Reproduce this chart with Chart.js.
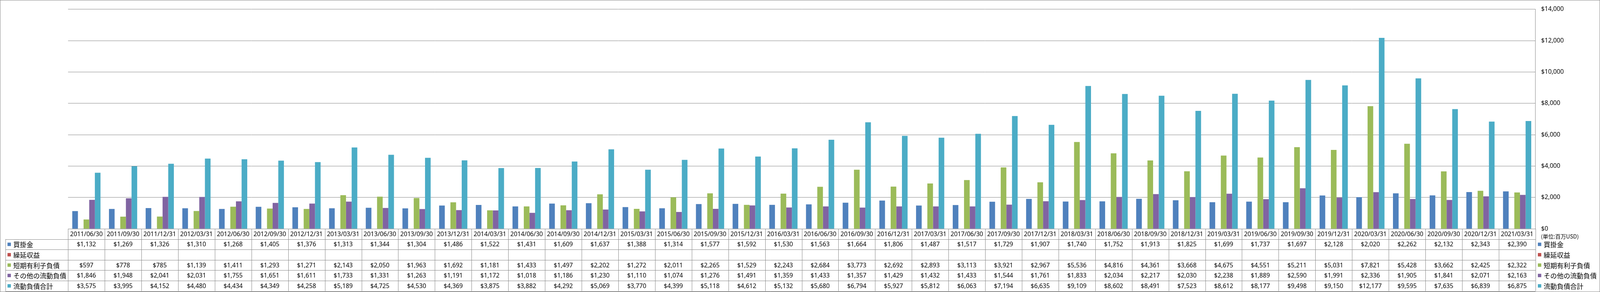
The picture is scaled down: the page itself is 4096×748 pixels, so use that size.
<!DOCTYPE html>
<html><head><meta charset="utf-8">
<script src="https://cdn.jsdelivr.net/npm/chart.js@4.4.0/dist/chart.umd.min.js"></script>
<style>html,body{margin:0;padding:0;background:#fff;}canvas{display:block;}</style>
</head><body>
<canvas id="c" width="4096" height="748"></canvas>
<script>
const categories = ['2011/06/30','2011/09/30','2011/12/31','2012/03/31','2012/06/30','2012/09/30','2012/12/31','2013/03/31','2013/06/30','2013/09/30','2013/12/31','2014/03/31','2014/06/30','2014/09/30','2014/12/31','2015/03/31','2015/06/30','2015/09/30','2015/12/31','2016/03/31','2016/06/30','2016/09/30','2016/12/31','2017/03/31','2017/06/30','2017/09/30','2017/12/31','2018/03/31','2018/06/30','2018/09/30','2018/12/31','2019/03/31','2019/06/30','2019/09/30','2019/12/31','2020/03/31','2020/06/30','2020/09/30','2020/12/31','2021/03/31'];
const seriesNames = ['買掛金','繰延収益','短期有利子負債','その他の流動負債','流動負債合計'];
const accountsPayable = [1132,1269,1326,1310,1268,1405,1376,1313,1344,1304,1486,1522,1431,1609,1637,1388,1314,1577,1592,1530,1563,1664,1806,1487,1517,1729,1907,1740,1752,1913,1825,1699,1737,1697,2128,2020,2262,2132,2343,2390];
const deferredRevenue = [null,null,null,null,null,null,null,null,null,null,null,null,null,null,null,null,null,null,null,null,null,null,null,null,null,null,null,null,null,null,null,null,null,null,null,null,null,null,null,null];
const shortTermDebt = [597,778,785,1139,1411,1293,1271,2143,2050,1963,1692,1181,1433,1497,2202,1272,2011,2265,1529,2243,2684,3773,2692,2893,3113,3921,2967,5536,4816,4361,3668,4675,4551,5211,5031,7821,5428,3662,2425,2322];
const otherCurrentLiabilities = [1846,1948,2041,2031,1755,1651,1611,1733,1331,1263,1191,1172,1018,1186,1230,1110,1074,1276,1491,1359,1433,1357,1429,1432,1433,1544,1761,1833,2034,2217,2030,2238,1889,2590,1991,2336,1905,1841,2071,2163];
const totalCurrentLiabilities = [3575,3995,4152,4480,4434,4349,4258,5189,4725,4530,4369,3875,3882,4292,5069,3770,4399,5118,4612,5132,5680,6794,5927,5812,6063,7194,6635,9109,8602,8491,7523,8612,8177,9498,9150,12177,9595,7635,6839,6875];
const yTickValues = [0,2000,4000,6000,8000,10000,12000,14000];
const unitLabel = '(単位:百万USD)';

const palette = ['#4F81BD','#C0504D','#9BBB59','#8064A2','#4BACC6'];
const seriesData = [accountsPayable, deferredRevenue, shortTermDebt, otherCurrentLiabilities, totalCurrentLiabilities];

const S = 0.871;
const W = 4096, H = 748;
const GRID = '#868686';
const numFont = (18*S).toFixed(2) + 'px "Noto Sans", "DejaVu Sans", sans-serif';
const jpFont = (19.5*S).toFixed(2) + 'px "Noto Sans CJK JP", "Noto Sans", sans-serif';
const unitFont = (16*S).toFixed(2) + 'px "Noto Sans CJK JP", "Noto Sans", sans-serif';
const fmt = v => (v === null || v === undefined) ? '' : '$' + v.toLocaleString('en-US');

const plotLeft = 200*S, plotRight = 4513*S, plotTop = 14*S, plotBottom = 673*S;

const tablePlugin = {
  id: 'dataTable',
  beforeDraw(chart) {
    const ctx = chart.ctx;
    ctx.save();
    ctx.fillStyle = '#ffffff';
    ctx.fillRect(0, 0, W, H);
    ctx.restore();
  },
  afterDraw(chart) {
    const {ctx, chartArea, scales} = chart;
    const x = scales.x;
    const top = chartArea.bottom;
    const left = chartArea.left, right = chartArea.right;
    const headerH = 30.3*S, rowH = 30.55*S;
    const rowTop = top + headerH;
    const bottom = rowTop + rowH*5;
    const labelLeft = 16*S;
    const n = categories.length;
    const colW = (right - left)/n;
    const px = v => Math.round(v) + 0.5;
    ctx.save();
    ctx.strokeStyle = GRID;
    ctx.lineWidth = 1;
    ctx.beginPath();
    // header top line (axis)
    ctx.moveTo(left, px(top)); ctx.lineTo(right, px(top));
    // row lines
    for (let r = 0; r <= 5; r++) {
      const yy = px(rowTop + r*rowH);
      ctx.moveTo(labelLeft, yy); ctx.lineTo(right, yy);
    }
    // vertical lines
    ctx.moveTo(px(labelLeft), rowTop); ctx.lineTo(px(labelLeft), bottom);
    for (let i = 0; i <= n; i++) {
      const xx = px(left + i*colW);
      ctx.moveTo(xx, top); ctx.lineTo(xx, bottom);
    }
    ctx.stroke();

    ctx.fillStyle = '#000';
    ctx.textAlign = 'center';
    ctx.textBaseline = 'middle';
    ctx.font = numFont;
    // header dates
    for (let i = 0; i < n; i++) {
      const cx = x.getPixelForValue(i);
      ctx.fillText(categories[i], cx, top + headerH/2 + 1);
    }
    // values
    for (let r = 0; r < 5; r++) {
      const cy = rowTop + r*rowH + rowH/2 + 1;
      for (let i = 0; i < n; i++) {
        const cx = x.getPixelForValue(i);
        ctx.fillText(fmt(seriesData[r][i]), cx, cy);
      }
    }
    // row labels with keys
    const key = 10*S;
    ctx.textAlign = 'left';
    for (let r = 0; r < 5; r++) {
      const cy = rowTop + r*rowH + rowH/2;
      ctx.fillStyle = palette[r];
      ctx.fillRect(22*S, cy - key/2, key, key);
      ctx.fillStyle = '#000';
      ctx.font = jpFont;
      ctx.fillText(seriesNames[r], 39*S, cy + 1);
      // right-side legend
      ctx.fillStyle = palette[r];
      ctx.fillRect(right + 7*S, cy - key/2, key, key);
      ctx.fillStyle = '#000';
      ctx.fillText(seriesNames[r], right + 24*S, cy + 1);
    }
    // unit label
    ctx.font = unitFont;
    ctx.fillText(unitLabel, right + 16*S, top + 22*S);
    // outer border
    ctx.strokeStyle = GRID;
    ctx.strokeRect(0.5, 0.5, W - 1, H - 1);
    ctx.restore();
  }
};

new Chart(document.getElementById('c'), {
  type: 'bar',
  data: {
    labels: categories,
    datasets: seriesNames.map((name, i) => ({
      label: name,
      data: seriesData[i],
      backgroundColor: palette[i],
      borderWidth: 0,
      categoryPercentage: 5/6.5,
      barPercentage: 1.0
    }))
  },
  options: {
    responsive: false,
    animation: false,
    devicePixelRatio: 1,
    layout: { padding: { left: plotLeft, top: plotTop, right: 0, bottom: H - plotBottom } },
    plugins: { legend: { display: false }, tooltip: { enabled: false } },
    scales: {
      x: { display: false, offset: true },
      y: {
        position: 'right',
        min: 0, max: 14000,
        afterBuildTicks: s => { s.ticks = yTickValues.map(v => ({ value: v })); },
        afterFit: s => { s.width = W - plotRight; },
        grid: { color: GRID, lineWidth: 1, drawTicks: false },
        border: { display: true, color: GRID, width: 1 },
        ticks: {
          padding: 16.6*S/0.871*0.871,
          color: '#000',
          font: { family: '"Noto Sans", "DejaVu Sans", sans-serif', size: 18*S },
          callback: v => '$' + Number(v).toLocaleString('en-US')
        }
      }
    }
  },
  plugins: [tablePlugin]
});
</script>
</body></html>
